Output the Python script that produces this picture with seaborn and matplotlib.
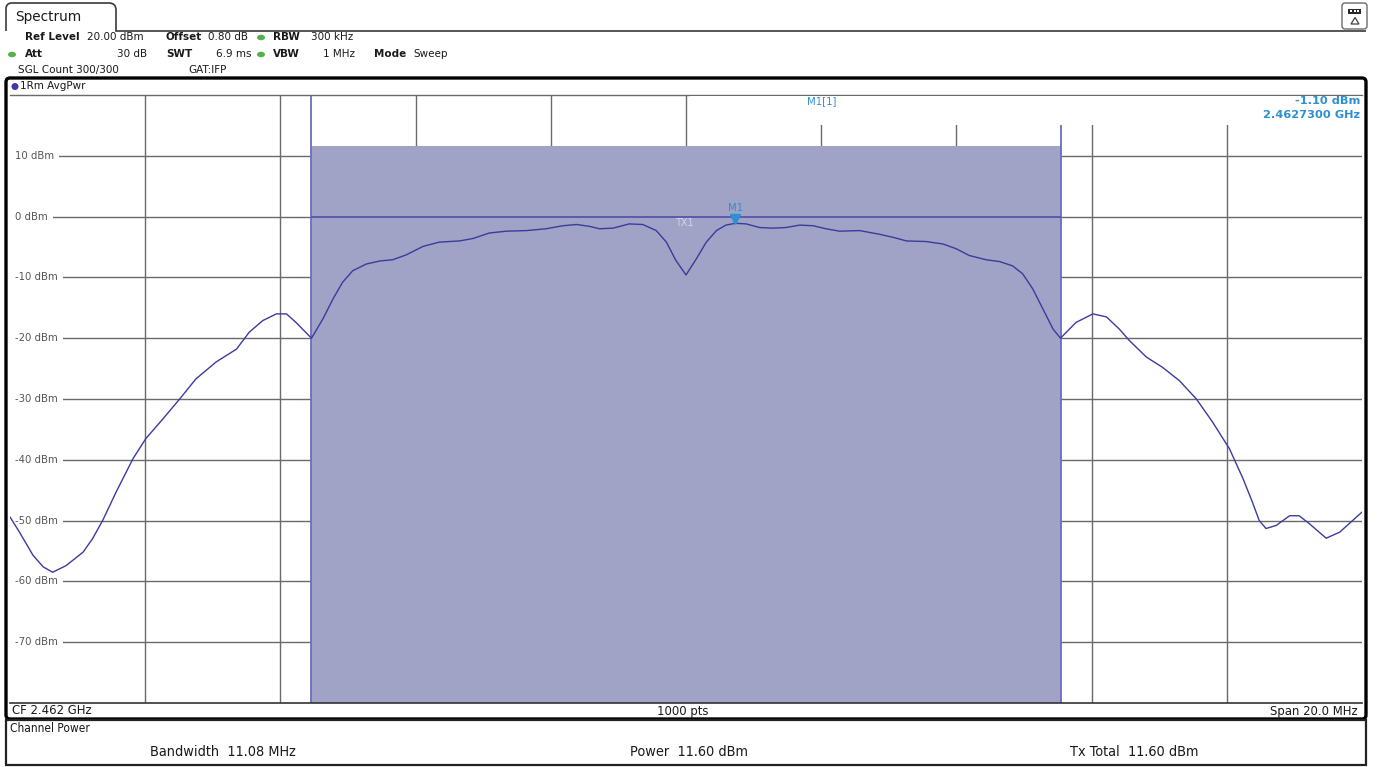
import numpy as np
import pandas as pd
import matplotlib
matplotlib.use("Agg")
import matplotlib.pyplot as plt
import matplotlib.transforms as mtransforms
from matplotlib.path import Path
from matplotlib.patches import FancyBboxPatch, Rectangle, Polygon, Ellipse, PathPatch
import seaborn as sns

sns.set_theme(style="white")
plt.rcParams['font.family'] = ['DejaVu Sans']

# ---- analyzer settings ----
center_mhz = 2462.0
span_mhz = 20.0
ref_level_dbm = 20.0
bottom_level_dbm = -80.0
sweep_points = 1000

# ---- averaged power trace (offset from start frequency, MHz / level, dBm) ----
freq_from_start_mhz = [
    0.00, 0.14, 0.34, 0.49, 0.63, 0.83, 1.08, 1.22, 1.37, 1.57,
    1.82, 2.01, 2.26, 2.51, 2.75, 3.05, 3.35, 3.54, 3.74, 3.94,
    4.09, 4.23, 4.46,
    4.63, 4.78, 4.92, 5.07, 5.27, 5.47, 5.66, 5.86, 6.11, 6.35,
    6.65, 6.85, 7.09, 7.34, 7.64, 7.93, 8.18, 8.38, 8.57, 8.72,
    8.92, 9.16, 9.36, 9.56, 9.71, 9.85, 10.00, 10.15, 10.30, 10.45,
    10.59, 10.73, 10.89, 11.09, 11.28, 11.48, 11.68, 11.88, 12.07, 12.27,
    12.57, 12.86, 13.06, 13.26, 13.55, 13.80, 14.00, 14.19, 14.44, 14.64,
    14.83, 14.98, 15.13, 15.28, 15.43, 15.54,
    15.77, 16.02, 16.22, 16.41, 16.56, 16.81, 17.05, 17.30, 17.55, 17.79,
    18.04, 18.24, 18.38, 18.48, 18.58, 18.73, 18.93, 19.07, 19.22, 19.47,
    19.67, 19.86, 20.00,
]
level_dbm = [
    -49.4, -51.9, -55.7, -57.6, -58.5, -57.4, -55.2, -53.0, -50.0, -45.3,
    -39.8, -36.5, -33.3, -30.0, -26.7, -23.9, -21.8, -19.0, -17.1, -16.0,
    -16.0, -17.4, -20.0,
    -16.8, -13.5, -10.8, -8.9, -7.8, -7.3, -7.1, -6.3, -4.9, -4.2,
    -4.0, -3.6, -2.7, -2.4, -2.3, -2.0, -1.5, -1.3, -1.6, -2.0,
    -1.9, -1.2, -1.3, -2.3, -4.2, -7.2, -9.6, -7.0, -4.2, -2.3,
    -1.4, -1.10, -1.2, -1.8, -1.9, -1.8, -1.4, -1.5, -2.0, -2.4,
    -2.3, -2.9, -3.4, -4.0, -4.1, -4.5, -5.3, -6.4, -7.1, -7.4,
    -8.1, -9.4, -11.9, -15.2, -18.5, -20.0,
    -17.4, -16.0, -16.5, -18.5, -20.4, -23.1, -24.8, -27.0, -30.0, -33.8,
    -38.2, -43.1, -47.0, -50.0, -51.3, -50.8, -49.2, -49.2, -50.5, -52.9,
    -51.9, -50.0, -48.6,
]

# ---- channel power measurement and marker ----
channel_bw_mhz = 11.08
channel_power_dbm = 11.60
tx_total_dbm = 11.60
marker_freq_ghz = 2.4627300
marker_level_dbm = -1.10
grid_levels_dbm = [10, 0, -10, -20, -30, -40, -50, -60, -70]

start_mhz = center_mhz - span_mhz / 2
stop_mhz = center_mhz + span_mhz / 2
df = pd.DataFrame({
    "freq": [start_mhz + f for f in freq_from_start_mhz],
    "level": level_dbm,
})
ch_lo = center_mhz - channel_bw_mhz / 2
ch_hi = center_mhz + channel_bw_mhz / 2

W, H = 1380, 767
fig = plt.figure(figsize=(W / 100, H / 100), dpi=100)
fig.patch.set_facecolor("white")

# diagram area
px_l, px_r, px_t, px_b = 10, 1362, 95, 703
ax = fig.add_axes([px_l / W, 1 - px_b / H, (px_r - px_l) / W, (px_b - px_t) / H])
ax.set_zorder(1)
ax.set_facecolor("white")
ax.set_xlim(start_mhz, stop_mhz)
ax.set_ylim(bottom_level_dbm, ref_level_dbm)
ax.set_xticks(np.arange(start_mhz + 2, stop_mhz, 2))
ax.set_yticks(grid_levels_dbm)
ax.tick_params(length=0, labelbottom=False, labelleft=False)
ax.set_axisbelow(True)
ax.grid(True, color="#6a6a6a", lw=1.0)
for side in ("left", "right"):
    ax.spines[side].set_visible(False)
ax.spines["top"].set_color("#6a6a6a")
ax.spines["top"].set_linewidth(1.0)
ax.spines["bottom"].set_color("#333333")
ax.spines["bottom"].set_linewidth(1.2)

# channel power block
ax.fill_between([ch_lo, ch_hi], bottom_level_dbm, channel_power_dbm,
                color="#a0a2c6", lw=0, zorder=1.2)
for edge in (ch_lo, ch_hi):
    ax.axvline(edge, color="#6c6cc0", lw=1.3, zorder=1.5)
ax.hlines(0, ch_lo, ch_hi, color="#4e4ea6", lw=1.2, zorder=1.5)

# level labels over the grid
for lv in grid_levels_dbm:
    ax.text(start_mhz + 0.07, lv, f"{lv} dBm", ha="left", va="center",
            fontsize=7.3, color="#555555", zorder=1.6,
            bbox=dict(boxstyle="square,pad=0.5", fc="white", ec="none"))

# trace
sns.lineplot(data=df, x="freq", y="level", ax=ax, color="#3b3b9c", lw=1.0,
             estimator=None, sort=False, legend=False, zorder=3)
ax.set_xlabel("")
ax.set_ylabel("")

# marker M1
mk_f = marker_freq_ghz * 1000
tri_tr = mtransforms.offset_copy(ax.transData, fig=fig, y=4, units="dots")
ax.plot([mk_f], [marker_level_dbm], marker="v", ms=6.5, color="#2e8fd4",
        transform=tri_tr, zorder=4, lw=0)
txt_tr = mtransforms.offset_copy(ax.transData, fig=fig, y=15, units="dots")
ax.text(mk_f, marker_level_dbm, "M1", transform=txt_tr, ha="center",
        va="center", fontsize=7.3, color="#2e8fd4", zorder=4)
tx_tr = mtransforms.offset_copy(ax.transData, fig=fig, y=-6, units="dots")
ax.text(center_mhz - 0.03, 0, "TX1", transform=tx_tr, ha="center",
        va="center", fontsize=7, color="#d4d6e6", zorder=4)

# ---- surrounding instrument panel (pixel coordinates) ----
ov = fig.add_axes([0, 0, 1, 1])
ov.set_zorder(5)
ov.set_xlim(0, W)
ov.set_ylim(H, 0)
ov.axis("off")

fs = 7.5
dark = "#1a1a1a"
green = "#55b04e"

# tab
verts = [(6, 31), (6, 9), (6, 3), (12, 3), (109, 3), (116, 3), (116, 10),
         (116, 31), (1366, 31)]
codes = [Path.MOVETO, Path.LINETO, Path.CURVE3, Path.CURVE3, Path.LINETO,
         Path.CURVE3, Path.CURVE3, Path.LINETO, Path.LINETO]
ov.add_patch(PathPatch(Path(verts, codes), fc="none", ec="#3a3a3a", lw=1.2))
ov.text(15, 17, "Spectrum", fontsize=9.8, color=dark, va="center", ha="left")

# settings rows
def hdr(x, y, s, bold=False, ha="left"):
    ov.text(x, y, s, fontsize=fs, color=dark, va="center", ha=ha,
            fontweight="bold" if bold else "normal")

def dot(x, y, c):
    ov.add_patch(Ellipse((x, y), 8, 5.5, fc=c, ec="none"))

hdr(25, 37, "Ref Level", True)
hdr(87, 37, f"{ref_level_dbm:.2f} dBm")
hdr(166, 37, "Offset", True)
hdr(208, 37, "0.80 dB")
dot(261, 37.5, green)
hdr(273, 37, "RBW", True)
hdr(311, 37, "300 kHz")

dot(12, 54.5, green)
hdr(25, 54, "Att", True)
hdr(147, 54, "30 dB", ha="right")
hdr(166, 54, "SWT", True)
hdr(251, 54, "6.9 ms", ha="right")
dot(261, 54.5, green)
hdr(273, 54, "VBW", True)
hdr(323, 54, "1 MHz")
hdr(374, 54, "Mode", True)
hdr(413, 54, "Sweep")

hdr(18, 70, "SGL Count 300/300")
hdr(188, 70, "GAT:IFP")

# trace label row
ov.add_patch(Ellipse((15, 86.5), 7, 7, fc="#3a3aa8", ec="none"))
hdr(20, 86, "1Rm AvgPwr")

# marker readout box
ov.add_patch(Rectangle((690, 95.6), 1362 - 690, 29.4, fc="white", ec="none"))
ov.text(822, 101, "M1[1]", fontsize=7.3, color="#2e8fd4", ha="center", va="center")
ov.text(1360, 101.5, f"{marker_level_dbm:.2f} dBm", fontsize=8.2, color="#2e8fd4",
        ha="right", va="center", fontweight="bold")
ov.text(1360, 115, f"{marker_freq_ghz:.7f} GHz", fontsize=8.2, color="#2e8fd4",
        ha="right", va="center", fontweight="bold")

# diagram frame
ov.add_patch(FancyBboxPatch((6, 78), 1360, 641,
                            boxstyle="round,pad=0,rounding_size=4",
                            fc="none", ec="black", lw=2.4))

cond = dict(family="DejaVu Sans", fontstretch="condensed")
ov.text(12, 711, f"CF {center_mhz / 1000:.3f} GHz", fontsize=9.4, color=dark,
        ha="left", va="center", **cond)
ov.text(683, 711, f"{sweep_points} pts", fontsize=9.4, color=dark,
        ha="center", va="center", **cond)
ov.text(1358, 711, f"Span {span_mhz:.1f} MHz", fontsize=9.4, color=dark,
        ha="right", va="center", **cond)

# channel power results
ov.add_patch(Rectangle((6, 720), 1360, 45, fc="none", ec="#222222", lw=1.6))
ov.text(10, 729, "Channel Power", fontsize=8.6, color=dark, ha="left",
        va="center", **cond)
ov.text(150, 752, f"Bandwidth  {channel_bw_mhz:.2f} MHz", fontsize=10.4,
        color=dark, ha="left", va="center", **cond)
ov.text(630, 752, f"Power  {channel_power_dbm:.2f} dBm", fontsize=10.4,
        color=dark, ha="left", va="center", **cond)
ov.text(1070, 752, f"Tx Total  {tx_total_dbm:.2f} dBm", fontsize=10.4,
        color=dark, ha="left", va="center", **cond)

# display-layout button
ov.add_patch(FancyBboxPatch((1342, 3), 25, 26,
                            boxstyle="round,pad=0,rounding_size=3",
                            fc="white", ec="#6a6a6a", lw=1.0))
ov.add_patch(Rectangle((1348, 8.5), 13, 5, fc="#2a2a2a", ec="none"))
for xx in (1350, 1353.5, 1357):
    ov.add_patch(Rectangle((xx, 9.8), 2.2, 2.4, fc="white", ec="none"))
ov.add_patch(Polygon([(1351, 24), (1359, 24), (1355, 17.5)], closed=True,
                     fc="none", ec="#444444", lw=0.9))

fig.savefig("out.png", dpi=100, facecolor="white")
